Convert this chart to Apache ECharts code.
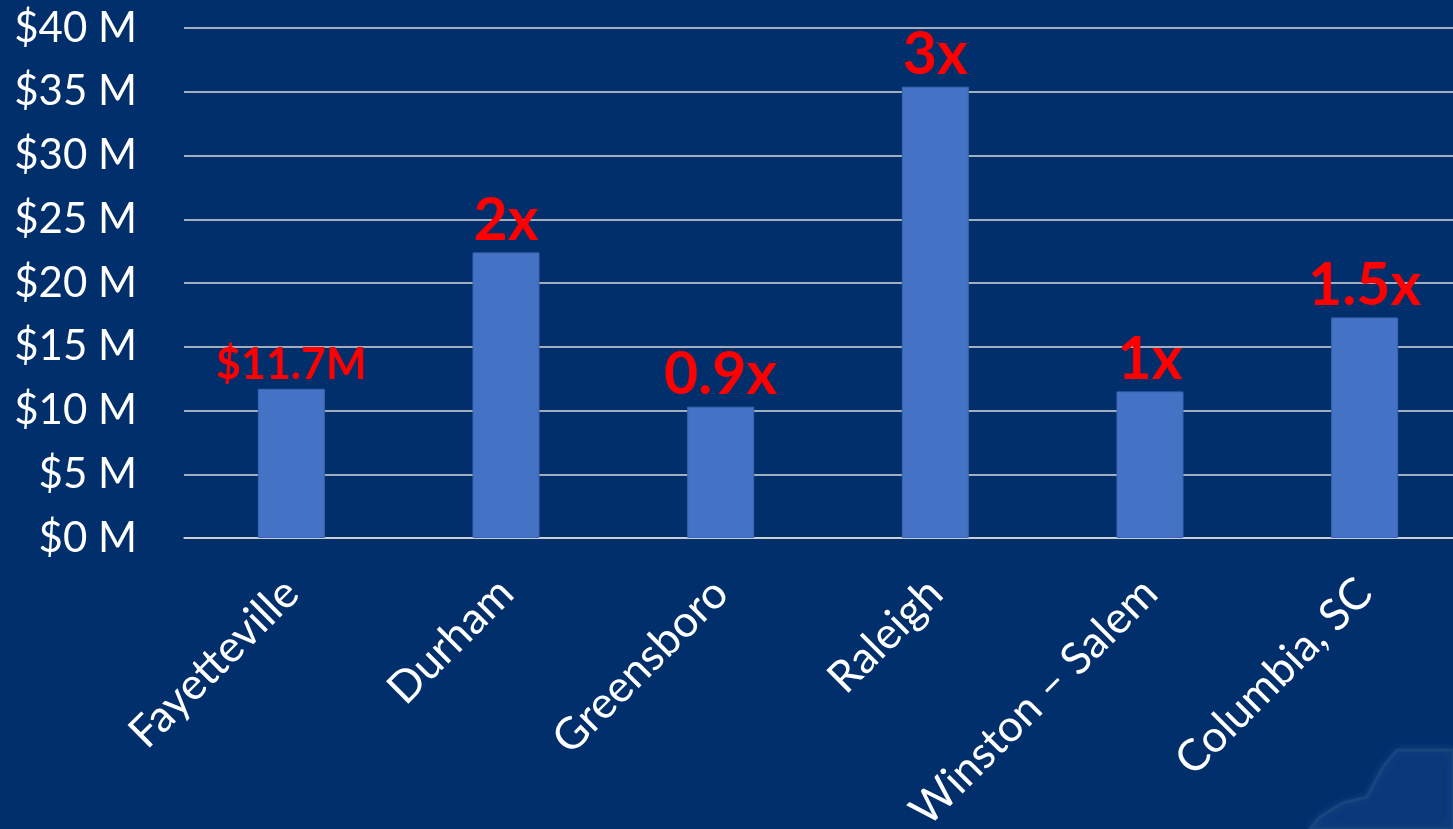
<!DOCTYPE html>
<html>
<head>
<meta charset="utf-8">
<script src="https://cdn.jsdelivr.net/npm/echarts@6/dist/echarts.min.js"></script>
<style>
  html, body { margin: 0; padding: 0; background: #002F6C; }
  #chart { width: 1453px; height: 829px; }
</style>
</head>
<body>
<div id="chart"></div>
<script>
// Cities compared
const cities = ['Fayetteville', 'Durham', 'Greensboro', 'Raleigh', 'Winston – Salem', 'Columbia, SC'];
// Values in $ millions
const values = [11.7, 22.4, 10.3, 35.4, 11.5, 17.3];
// Text shown above each bar (first is the base amount, others are multiples of it)
const barLabels = ['$11.7M', '2x', '0.9x', '3x', '1x', '1.5x'];
// Value axis ticks ($ millions)
const yMin = 0, yMax = 40, yStep = 5;

const chart = echarts.init(document.getElementById('chart'), null, { renderer: 'canvas' });

const seriesData = values.map((v, i) => ({
  value: v,
  label: {
    formatter: barLabels[i],
    fontSize: i === 0 ? 43 : 59
  }
}));

chart.setOption({
  backgroundColor: '#002F6C',
  animation: false,
  // plot area runs past the right edge of the page
  grid: { left: 184, top: 28, width: 1288, bottom: 291, containLabel: false, outerBoundsMode: 'none' },
  xAxis: {
    type: 'category',
    data: cities,
    axisLine: { show: true, lineStyle: { color: '#D9D9D9', width: 1.5 } },
    axisTick: { show: false },
    axisLabel: {
      rotate: 45,
      color: '#FFFFFF',
      fontFamily: 'Lato',
      fontSize: 44,
      margin: 48,
      interval: 0
    }
  },
  yAxis: {
    type: 'value',
    min: yMin,
    max: yMax,
    interval: yStep,
    axisLine: { show: false },
    axisTick: { show: false },
    splitLine: { lineStyle: { color: '#D9D9D9', width: 1.5 } },
    axisLabel: {
      color: '#FFFFFF',
      fontFamily: 'Lato',
      fontSize: 42,
      margin: 47,
      formatter: v => '$' + v + ' M'
    }
  },
  series: [{
    type: 'bar',
    data: seriesData,
    barWidth: 67,
    itemStyle: { color: '#4472C4', borderColor: '#3A64B0', borderWidth: 1 },
    label: {
      show: true,
      position: 'top',
      distance: 2,
      color: '#FF0000',
      fontFamily: 'Lato',
      fontWeight: 'bold'
    }
  }],
  graphic: [{
    type: 'polygon',
    z: -1,
    silent: true,
    shape: {
      points: [[1453, 750], [1397, 750], [1383, 767], [1367, 797], [1343, 803], [1320, 817], [1310, 829], [1453, 829]]
    },
    style: { fill: '#0A397A', stroke: '#17467F', lineWidth: 3, shadowBlur: 8, shadowColor: 'rgba(50,100,170,0.35)' }
  }]
});
</script>
</body>
</html>
